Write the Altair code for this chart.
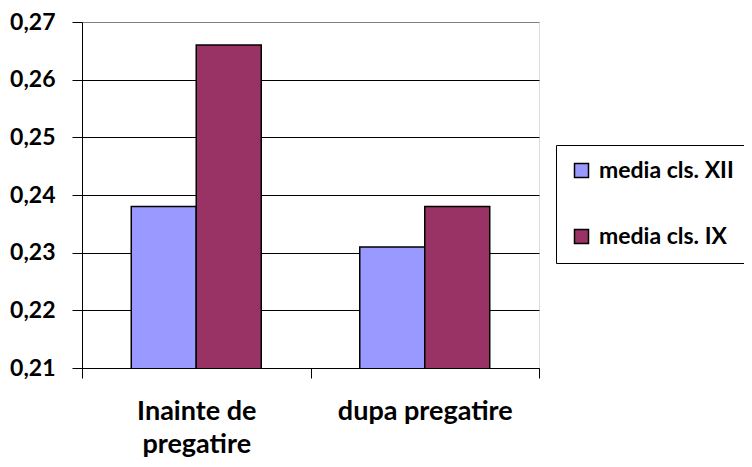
import altair as alt
import pandas as pd

categories = ["Inainte de pregatire", "dupa pregatire"]
series = ["media cls. XII", "media cls. IX"]
media_xii = [0.238, 0.231]
media_ix = [0.266, 0.238]
y_ticks = [0.21, 0.22, 0.23, 0.24, 0.25, 0.26, 0.27]
colors = ["#9999FF", "#993366"]

rows = []
for i, c in enumerate(categories):
    rows.append({"cat": c, "serie": series[0], "val": media_xii[i]})
    rows.append({"cat": c, "serie": series[1], "val": media_ix[i]})
df = pd.DataFrame(rows)

FONT = "Lato"

chart = alt.Chart(df).mark_bar(clip=True, stroke="black", strokeWidth=1.5).encode(
    x=alt.X("cat:N", sort=categories, title=None,
            scale=alt.Scale(paddingInner=0, paddingOuter=0),
            axis=alt.Axis(labelAngle=0, tickBand="extent", tickSize=10, tickColor="black",
                          domainColor="black", domainWidth=1, labelFont=FONT,
                          labelFontSize=27, labelFontWeight="bold", labelColor="black",
                          labelPadding=20, labelBaseline="top", labelLineHeight=33,
                          labelExpr="datum.label == 'Inainte de pregatire' ? ['Inainte de', 'pregatire'] : datum.label")),
    xOffset=alt.XOffset("serie:N", sort=series,
                        scale=alt.Scale(paddingInner=0, paddingOuter=0.758)),
    y=alt.Y("val:Q", title=None,
            scale=alt.Scale(domain=[0.21, 0.27], zero=False, nice=False),
            axis=alt.Axis(values=y_ticks, tickSize=10, tickColor="black",
                          domainColor="black", labelFont=FONT, labelFontSize=23,
                          labelFontWeight="bold", labelColor="black", labelPadding=17,
                          gridColor={"condition": {"test": "datum.value > 0.265", "value": "#808080"}, "value": "black"},
                          gridOpacity=1, grid=True,
                          labelExpr="replace(format(datum.value, '.2f'), '.', ',')")),
    color=alt.Color("serie:N", sort=series, title=None,
                    scale=alt.Scale(domain=series, range=colors),
                    legend=alt.Legend(orient="none", legendX=474, legendY=123,
                                      symbolType="square", symbolSize=196,
                                      symbolStrokeColor="black", symbolStrokeWidth=1.5,
                                      symbolOffset=0, labelOffset=6,
                                      labelFont=FONT, labelFontSize=23, labelFontWeight="bold",
                                      labelColor="black", rowPadding=42, padding=14,
                                      strokeColor="black", fillColor="white",
                                      labelLimit=300)),
).properties(
    width=457, height=346,
    padding={"left": 74, "top": 14, "right": 205, "bottom": 91},
    autosize=alt.AutoSizeParams(type="none"),
).configure_view(
    fill="#C0C0C0", stroke="#808080", strokeWidth=1.5
).configure(background="white")

chart.save("out.html", embed_options={"renderer": "svg", "actions": False})
